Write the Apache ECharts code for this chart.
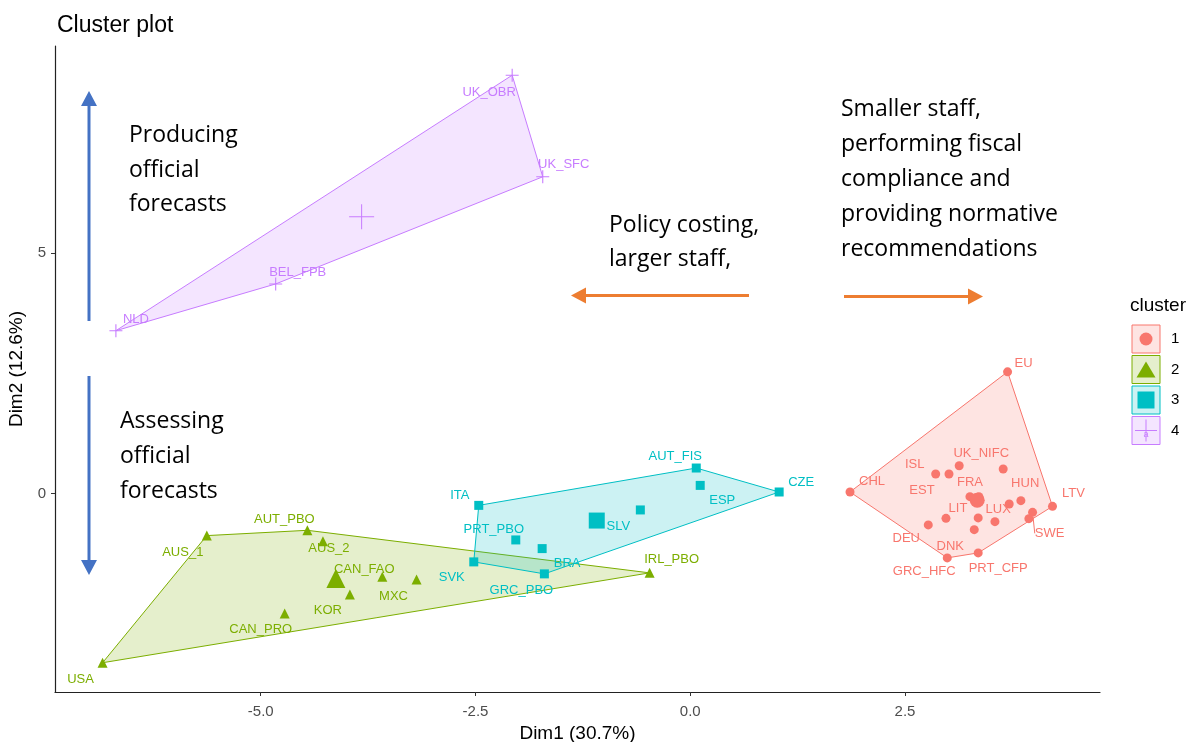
<!DOCTYPE html>
<html>
<head>
<meta charset="utf-8">
<script src="https://cdn.jsdelivr.net/npm/echarts@6/dist/echarts.min.js"></script>
<style>
  html, body { margin: 0; padding: 0; background: #fff; }
  #chart { width: 1190px; height: 742px; }
</style>
</head>
<body>
<div id="chart"></div>
<script>
// ---- PCA coordinates of each fiscal institution, by k-means cluster ----
const xTicks = [-5, -2.5, 0, 2.5];
const yTicks = [0, 5];

// cluster 1
const c1Names = ['EU', 'CHL', 'ISL', 'EST', 'UK_NIFC', 'HUN', '', '', 'LTV', 'SWE', '', 'LIT', 'LUX', '', 'DEU', 'DNK', 'PRT_CFP', 'GRC_HFC', 'FRA', ''];
const c1Dim1 = [3.694, 1.860, 2.857, 3.012, 3.131, 3.643, 3.849, 3.713, 4.217, 3.985, 3.942, 2.977, 3.352, 3.547, 2.771, 3.306, 3.352, 2.992, 3.256, 3.360];
const c1Dim2 = [2.531, 0.035, 0.409, 0.409, 0.581, 0.512, -0.145, -0.214, -0.263, -0.388, -0.519, -0.512, -0.504, -0.581, -0.649, -0.747, -1.230, -1.334, -0.062, -0.062];

// cluster 2
const c2Names = ['USA', 'AUS_1', 'AUT_PBO', 'AUS_2', 'CAN_FAO', 'MXC', 'KOR', 'CAN_PRO', 'IRL_PBO'];
const c2Dim1 = [-6.841, -5.628, -4.457, -4.276, -3.585, -3.186, -3.962, -4.721, -0.473];
const c2Dim2 = [-3.512, -0.871, -0.761, -0.990, -1.728, -1.784, -2.095, -2.490, -1.645];

// cluster 3
const c3Names = ['ITA', 'AUT_FIS', 'ESP', 'CZE', 'SLV', 'PRT_PBO', 'BRA', 'SVK', 'GRC_PBO'];
const c3Dim1 = [-2.462, 0.070, 0.116, 1.035, -0.581, -2.031, -1.724, -2.520, -1.698];
const c3Dim2 = [-0.243, 0.533, 0.172, 0.035, -0.338, -0.961, -1.141, -1.417, -1.666];

// cluster 4
const c4Names = ['UK_OBR', 'UK_SFC', 'BEL_FPB', 'NLD'];
const c4Dim1 = [-2.073, -1.717, -4.826, -6.686];
const c4Dim2 = [8.693, 6.583, 4.357, 3.386];

// ---- styling ----
const FONT = '"Liberation Sans", Arial, sans-serif';
const NOTE_FONT = '"Open Sans", sans-serif';
const PLUS = 'path://M5.5,0H6.5V12H5.5ZM0,5.5H12V6.5H0Z';
const PLUS_BIG = 'path://M12,0H13V25H12ZM0,12H25V13H0Z';

// repelled label placement, in pixels from the point
const labelShift = {
  EU: [16, -8], CHL: [22, -11], ISL: [-21, -10], EST: [-27, 16], UK_NIFC: [22, -12],
  HUN: [22, 14], LTV: [21, -13], SWE: [17, 21], LIT: [12, -10], LUX: [20, -9],
  DEU: [-22, 14], DNK: [-24, 17], PRT_CFP: [20, 16], GRC_HFC: [-23, 14], FRA: [0, -14],
  USA: [-22, 17], AUS_1: [-24, 17], AUT_PBO: [-23, -11], AUS_2: [6, 7], CAN_FAO: [-18, -7],
  MXC: [-23, 17], KOR: [-22, 16], CAN_PRO: [-24, 16], IRL_PBO: [22, -13],
  ITA: [-19, -10], AUT_FIS: [-21, -12], ESP: [22, 15], CZE: [22, -10], SLV: [-22, 16],
  PRT_PBO: [-22, -11], BRA: [25, 15], SVK: [-22, 16], GRC_PBO: [-23, 17],
  UK_OBR: [-23, 17], UK_SFC: [21, -12], BEL_FPB: [22, -12], NLD: [20, -11]
};
// labels pushed far enough to get a leader segment
const withLeader = ['SWE'];

const clusters = [
  { id: '1', names: c1Names, x: c1Dim1, y: c1Dim2, color: '#F8766D', symbol: 'circle', size: 9, centerSymbol: 'circle', centerSize: 15 },
  { id: '2', names: c2Names, x: c2Dim1, y: c2Dim2, color: '#7CAE00', symbol: 'triangle', size: 10, centerSymbol: 'triangle', centerSize: 19 },
  { id: '3', names: c3Names, x: c3Dim1, y: c3Dim2, color: '#00BFC4', symbol: 'rect', size: 9, centerSymbol: 'rect', centerSize: 16 },
  { id: '4', names: c4Names, x: c4Dim1, y: c4Dim2, color: '#C77CFF', symbol: PLUS, size: 13, centerSymbol: PLUS_BIG, centerSize: 25 }
];

function rgba(hex, a) {
  const n = parseInt(hex.slice(1), 16);
  return 'rgba(' + (n >> 16) + ',' + ((n >> 8) & 255) + ',' + (n & 255) + ',' + a + ')';
}

// convex hull (monotone chain)
function convexHull(points) {
  const pts = points.slice().sort((a, b) => a[0] - b[0] || a[1] - b[1]);
  const cross = (o, a, b) => (a[0] - o[0]) * (b[1] - o[1]) - (a[1] - o[1]) * (b[0] - o[0]);
  const lower = [];
  for (const p of pts) {
    while (lower.length >= 2 && cross(lower[lower.length - 2], lower[lower.length - 1], p) <= 0) lower.pop();
    lower.push(p);
  }
  const upper = [];
  for (let i = pts.length - 1; i >= 0; i--) {
    const p = pts[i];
    while (upper.length >= 2 && cross(upper[upper.length - 2], upper[upper.length - 1], p) <= 0) upper.pop();
    upper.push(p);
  }
  lower.pop(); upper.pop();
  return lower.concat(upper);
}

const series = [];
clusters.forEach((c, k) => {
  const pts = c.x.map((v, i) => [v, c.y[i]]);
  const hull = convexHull(pts);
  const centre = [
    pts.reduce((s, p) => s + p[0], 0) / pts.length,
    pts.reduce((s, p) => s + p[1], 0) / pts.length
  ];
  series.push({
    type: 'custom',
    name: 'hull' + c.id,
    z: 1 + k * 0.01,
    silent: true,
    data: [centre],
    renderItem: (params, api) => ({
      type: 'polygon',
      shape: { points: hull.map(p => api.coord(p)) },
      style: { fill: rgba(c.color, 0.2), stroke: c.color, lineWidth: 1 }
    })
  });
});
clusters.forEach((c) => {
  series.push({
    type: 'scatter',
    name: c.id,
    z: 3,
    symbol: c.symbol,
    symbolSize: c.size,
    itemStyle: { color: c.color, opacity: 1 },
    label: {
      show: true, position: 'inside', formatter: '{b}',
      color: c.color, fontSize: 13, fontFamily: FONT
    },
    labelLine: { show: false, lineStyle: { color: c.color, width: 1 } },
    labelLayout: (p) => {
      const s = labelShift[c.names[p.dataIndex]] || [0, 0];
      return { dx: s[0], dy: s[1] };
    },
    emphasis: { disabled: true },
    data: c.names.map((n, i) => ({
      name: n,
      value: [c.x[i], c.y[i]],
      label: { show: n !== '' },
      labelLine: { show: withLeader.indexOf(n) >= 0 }
    }))
  });
});
clusters.forEach((c) => {
  const n = c.x.length;
  series.push({
    type: 'scatter',
    name: 'centre' + c.id,
    z: 4,
    silent: true,
    symbol: c.centerSymbol,
    symbolSize: c.centerSize,
    itemStyle: { color: c.color, opacity: 1 },
    data: [[c.x.reduce((s, v) => s + v, 0) / n, c.y.reduce((s, v) => s + v, 0) / n]]
  });
});

// ---- legend keys and annotations ----
const graphics = [];
graphics.push({ type: 'text', x: 1130, y: 306, style: { text: 'cluster', font: '19px ' + FONT, fill: '#000', verticalAlign: 'middle' } });
const keyTop = [325, 355.5, 386, 416.5];
clusters.forEach((c, k) => {
  const x0 = 1132, y0 = keyTop[k], cx = x0 + 14, cy = y0 + 14;
  graphics.push({ type: 'rect', shape: { x: x0, y: y0, width: 28, height: 28 }, style: { fill: rgba(c.color, 0.2), stroke: c.color, lineWidth: 1 } });
  if (k === 0) graphics.push({ type: 'circle', shape: { cx: cx, cy: cy, r: 6.5 }, style: { fill: c.color } });
  if (k === 1) graphics.push({ type: 'polygon', shape: { points: [[cx, cy - 8], [cx + 9.5, cy + 8], [cx - 9.5, cy + 8]] }, style: { fill: c.color } });
  if (k === 2) graphics.push({ type: 'rect', shape: { x: cx - 8.5, y: cy - 8.5, width: 17, height: 17 }, style: { fill: c.color } });
  if (k === 3) {
    graphics.push({ type: 'text', x: cx, y: cy + 4, style: { text: 'a', font: '9px ' + FONT, fill: c.color, align: 'center', verticalAlign: 'middle' } });
    graphics.push({ type: 'line', shape: { x1: cx - 11, y1: cy, x2: cx + 11, y2: cy }, style: { stroke: c.color, lineWidth: 1 } });
    graphics.push({ type: 'line', shape: { x1: cx, y1: cy - 11, x2: cx, y2: cy + 11 }, style: { stroke: c.color, lineWidth: 1 } });
  }
  graphics.push({ type: 'text', x: 1171, y: cy, style: { text: c.id, font: '15px ' + FONT, fill: '#000', verticalAlign: 'middle' } });
});

function note(lines, x, baseline0, step) {
  lines.forEach((t, i) => {
    graphics.push({ type: 'text', x: x, y: baseline0 + i * step - 5.5, style: { text: t, font: '23px ' + NOTE_FONT, fill: '#000', verticalAlign: 'middle' } });
  });
}
note(['Producing', 'official', 'forecasts'], 129, 141, 34.5);
note(['Assessing', 'official', 'forecasts'], 120, 427, 35);
note(['Policy costing,', 'larger staff,'], 609, 231, 34);
note(['Smaller staff,', 'performing fiscal', 'compliance and', 'providing normative', 'recommendations'], 841, 115, 35);

function arrow(x1, y1, x2, y2, color) {
  const len = Math.hypot(x2 - x1, y2 - y1);
  const ux = (x2 - x1) / len, uy = (y2 - y1) / len;
  const hl = 15, hw = 8;
  const bx = x2 - ux * hl, by = y2 - uy * hl;
  graphics.push({ type: 'line', shape: { x1: x1, y1: y1, x2: bx, y2: by }, style: { stroke: color, lineWidth: 3 } });
  graphics.push({ type: 'polygon', shape: { points: [[x2, y2], [bx - uy * hw, by + ux * hw], [bx + uy * hw, by - ux * hw]] }, style: { fill: color } });
}
arrow(89, 321, 89, 91, '#4472C4');
arrow(89, 376, 89, 575, '#4472C4');
arrow(749, 295.5, 571, 295.5, '#ED7D31');
arrow(844, 296.5, 983, 296.5, '#ED7D31');

const chart = echarts.init(document.getElementById('chart'), null, { renderer: 'canvas' });
chart.setOption({
  animation: false,
  backgroundColor: '#fff',
  textStyle: { fontFamily: FONT },
  title: { text: 'Cluster plot', left: 52, top: 9, textStyle: { fontSize: 23, fontWeight: 'normal', color: '#000', fontFamily: FONT } },
  grid: { left: 55, right: 90, top: 46, bottom: 50, outerBoundsMode: 'none', containLabel: false },
  xAxis: {
    type: 'value', min: -7.395, max: 4.77,
    name: 'Dim1 (30.7%)', nameLocation: 'middle', nameGap: 31,
    nameTextStyle: { fontSize: 19, color: '#000', fontFamily: FONT },
    axisLine: { show: true, onZero: false, lineStyle: { color: '#222', width: 1.2 } },
    axisTick: { show: true, customValues: xTicks, length: 4, lineStyle: { color: '#333' } },
    axisLabel: { customValues: xTicks, formatter: v => v.toFixed(1), color: '#4D4D4D', fontSize: 15, margin: 12 },
    splitLine: { show: false }
  },
  yAxis: {
    type: 'value', min: -4.12, max: 9.3,
    name: 'Dim2 (12.6%)', nameLocation: 'middle', nameGap: 23, nameRotate: 90,
    nameTextStyle: { fontSize: 19, color: '#000', fontFamily: FONT },
    axisLine: { show: true, onZero: false, lineStyle: { color: '#222', width: 1.2 } },
    axisTick: { show: true, customValues: yTicks, length: 4, lineStyle: { color: '#333' } },
    axisLabel: { customValues: yTicks, formatter: v => String(v), color: '#4D4D4D', fontSize: 15, margin: 9 },
    splitLine: { show: false }
  },
  series: series,
  graphic: graphics
});
</script>
</body>
</html>
